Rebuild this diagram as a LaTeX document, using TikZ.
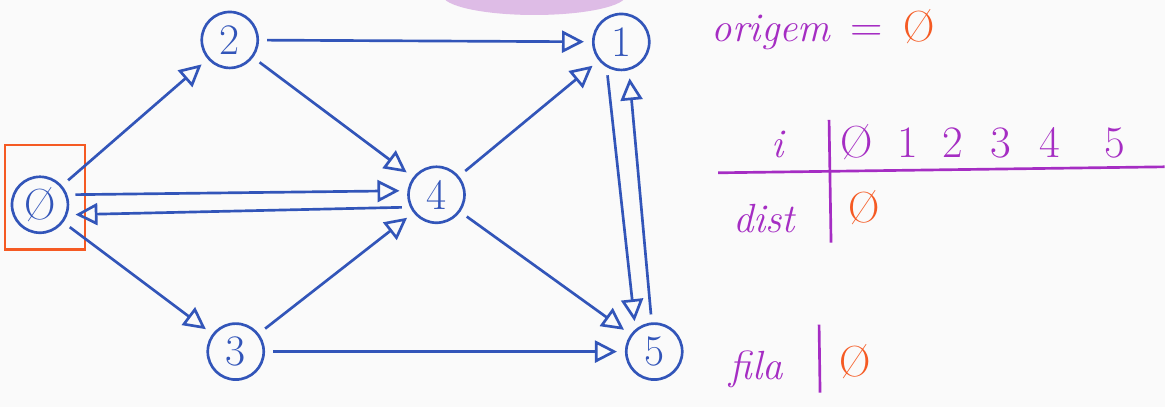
\documentclass[tikz,border=0pt]{standalone}
\usepackage{fontspec}
\usepackage{tikz}
\usetikzlibrary{arrows.meta}
\definecolor{penblue}{RGB}{50,85,185}
\definecolor{penpurple}{RGB}{165,45,195}
\definecolor{penorange}{RGB}{245,90,35}
\definecolor{softlilac}{RGB}{222,188,230}
\definecolor{paper}{RGB}{250,250,250}
\tikzset{
  vertex/.style={circle, draw=penblue, line width=1.9pt, minimum size=1.4cm, inner sep=0pt,
                 text=penblue, font=\fontsize{31}{33}\selectfont},
  edge/.style={-{Triangle[open, length=5.5mm, width=5.5mm]}, line width=1.9pt, penblue,
               shorten <=2mm, shorten >=2mm},
  note/.style={text=penpurple, font=\fontsize{29}{31}\selectfont\itshape, anchor=base},
  numeral/.style={text=penpurple, font=\fontsize{32}{34}\selectfont, anchor=base},
  zero/.style={text=penorange, font=\fontsize{31}{33}\selectfont},
  tablerule/.style={penpurple, line width=1.9pt},
  startbox/.style={draw=penorange, line width=1.9pt},
}

\begin{document}
\begin{tikzpicture}[x=0.025cm, y=-0.025cm]
\fill[paper] (0,0) rectangle (1166,407);
\begin{scope}
  \clip (0,0) rectangle (1166,407);
  \fill[softlilac] (535,-5) ellipse [x radius=92, y radius=20];
\end{scope}

% graph
\node[vertex] (n0) at (40,205) {Ø};
\node[vertex] (n2) at (230,40) {2};
\node[vertex] (n1) at (622,42) {1};
\node[vertex] (n4) at (437,195) {4};
\node[vertex] (n3) at (236,352) {3};
\node[vertex] (n5) at (655,352) {5};
\draw[startbox] (5,145) rectangle (85,250);

\draw[edge] (n0) -- (n2);
\draw[edge] (n2) -- (n1);
\draw[edge] (n2) -- (n4);
\draw[edge] (n0.20) -- (n4.172);
\draw[edge] (n4.205) -- (n0.340);
\draw[edge] (n0) -- (n3);
\draw[edge] (n3) -- (n4);
\draw[edge] (n3) -- (n5);
\draw[edge] (n4) -- (n1);
\draw[edge] (n4) -- (n5);
\draw[edge] (n1.240) -- (n5.130);
\draw[edge] (n5.95) -- (n1.285);

% origem, table, fila
\node[note] (orig) at (772,42) {origem};
\node[numeral] (eq) at (868,42) {=};
\node[zero] (origz) at (920,27) {Ø};

\node[note] (hi) at (778,158) {i};
\foreach \d/\x [count=\k from 0] in {Ø/858,1/909,2/954,3/1002,4/1051,5/1116}
  \node[numeral] (h\k) at (\x,158) {\d};
\draw[tablerule] (719,173) -- (1166,167);
\draw[tablerule] (830,120) -- (832,243);
\node[note] (dist) at (765,233) {dist};
\node[zero] (distz) at (865,208) {Ø};

\node[note] (fila) at (757,380) {fila};
\draw[tablerule] (820,325) -- (821,393);
\node[zero] (filaz) at (856,362) {Ø};
\end{tikzpicture}
\end{document}
